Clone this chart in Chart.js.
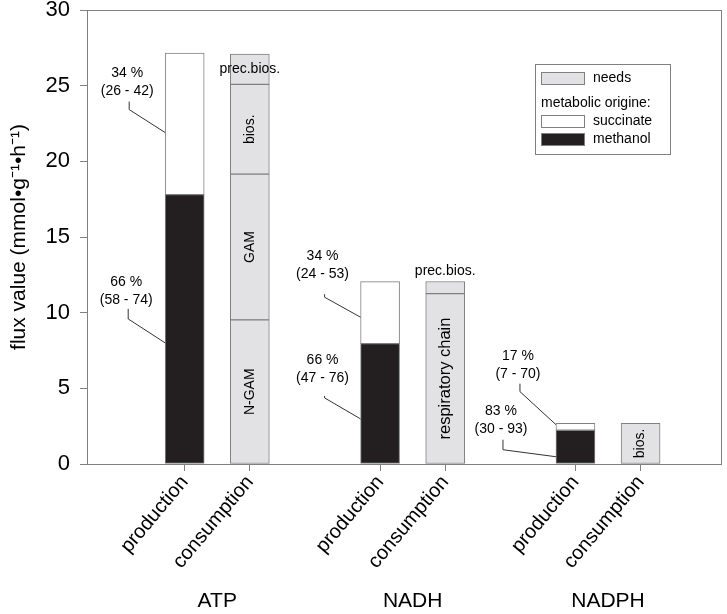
<!DOCTYPE html>
<html lang="en">
<head>
<meta charset="UTF-8">
<title>Flux values ATP / NADH / NADPH</title>
<style>
  body { margin: 0; background: #fff; }
  canvas { display: block; }
</style>
</head>
<body>
<canvas id="fluxChart" width="727" height="614"></canvas>

<script src="https://cdn.jsdelivr.net/npm/chart.js"></script>
<script>
// ---- data ----
const groups = ['ATP', 'NADH', 'NADPH'];
const phases = ['production', 'consumption'];
const methanol = [17.8, 7.95, 2.23];
const succinate = [9.35, 4.1, 0.46];
// consumption ("needs"), segments from the bottom of each bar upward
const needsATP = [9.52, 9.63, 5.94, 2.0];
const needsNADH = [11.26, 0.8];
const needsNADPH = [2.69];
const needLabelsATP = ['N-GAM', 'GAM', 'bios.', 'prec.bios.'];
const needLabelsNADH = ['respiratory chain', 'prec.bios.'];
const needLabelsNADPH = ['bios.'];
const yTicks = [0, 5, 10, 15, 20, 25, 30];

const needs = [needsATP, needsNADH, needsNADPH];
const needLabels = [needLabelsATP, needLabelsNADH, needLabelsNADPH];

// share notes with leader lines (at = value on the bar edge where the line ends)
const shareNotes = [
  { group: 0, series: 'succinate', lines: ['34 %', '(26 - 42)'], at: 21.9, dx: -36, rise: 23, stem: 8, gap: 10 },
  { group: 0, series: 'methanol', lines: ['66 %', '(58 - 74)'], at: 8.0, dx: -37, rise: 24, stem: 10, gap: 9 },
  { group: 1, series: 'succinate', lines: ['34 %', '(24 - 53)'], at: 9.7, dx: -36, rise: 20, stem: 3, gap: 20 },
  { group: 1, series: 'methanol', lines: ['66 %', '(47 - 76)'], at: 2.98, dx: -36, rise: 21, stem: 2, gap: 18 },
  { group: 2, series: 'succinate', lines: ['17 %', '(7 - 70)'], at: 2.6, dx: -36, rise: 33, stem: 8, gap: 10 },
  { group: 2, series: 'methanol', lines: ['83 %', '(30 - 93)'], at: 0.48, dx: -53, rise: 7, stem: 10, gap: 11 }
];

const BLACK = '#231f20';
const GREY = '#e2e2e4';
const EDGE = '#808080';
const FONT = "'Liberation Sans', Arial, sans-serif";

Chart.defaults.font.family = FONT;
Chart.defaults.color = '#000';

// production bar of group i sits at 3i+1, consumption at 3i+2
const prodPos = i => 3 * i + 1;
const consPos = i => 3 * i + 2;

const datasets = [
  {
    label: 'methanol',
    data: methanol.map((v, i) => ({ x: prodPos(i), y: v })),
    backgroundColor: BLACK
  },
  {
    label: 'succinate',
    data: succinate.map((v, i) => ({ x: prodPos(i), y: v })),
    backgroundColor: '#ffffff'
  }
];
for (let k = 0; k < 4; k++) {
  const pts = [];
  needs.forEach((arr, i) => {
    if (arr[k] !== undefined) pts.push({ x: consPos(i), y: arr[k] });
  });
  datasets.push({ label: 'needs ' + k, level: k, data: pts, backgroundColor: GREY });
}
datasets.forEach(d => {
  d.borderColor = EDGE;
  d.borderWidth = 1;
  d.borderSkipped = false;
  d.barThickness = 39;
});

const decorations = {
  id: 'decorations',
  afterDatasetsDraw(chart) {
    const { ctx, chartArea: a, scales } = chart;
    const y = scales.y;
    ctx.save();

    // frame around the plot
    ctx.strokeStyle = EDGE;
    ctx.lineWidth = 1;
    ctx.strokeRect(Math.round(a.left) + 0.5, Math.round(a.top) + 0.5,
      Math.round(a.right - a.left) - 1, Math.round(a.bottom - a.top));

    // labels on the consumption segments
    ctx.fillStyle = '#000';
    ctx.textAlign = 'center';
    ctx.textBaseline = 'middle';
    chart.data.datasets.forEach((ds, di) => {
      if (ds.level === undefined) return;
      const meta = chart.getDatasetMeta(di);
      meta.data.forEach((el, j) => {
        const g = (ds.data[j].x - 2) / 3;
        const text = needLabels[g][ds.level];
        if (!text) return;
        const size = text === 'respiratory chain' ? 16.5 : 14;
        ctx.font = size + 'px ' + FONT;
        const h = el.base - el.y;
        const w = ctx.measureText(text).width;
        if (w + 6 <= h) {
          ctx.save();
          ctx.translate(el.x, (el.y + el.base) / 2);
          ctx.rotate(-Math.PI / 2);
          ctx.fillText(text, 0, 0);
          ctx.restore();
        } else if (h >= 20) {
          ctx.fillText(text, el.x, (el.y + el.base) / 2);
        } else {
          ctx.fillText(text, el.x, el.y - 10);
        }
      });
    });

    // share notes with leader lines
    ctx.font = '14px ' + FONT;
    shareNotes.forEach(n => {
      const di = chart.data.datasets.findIndex(d => d.label === n.series);
      const el = chart.getDatasetMeta(di).data[n.group];
      const x1 = el.x - el.width / 2;
      const y1 = y.getPixelForValue(n.at);
      const xe = x1 + n.dx, ye = y1 - n.rise;
      const ys = ye - n.stem;
      ctx.strokeStyle = '#333';
      ctx.beginPath();
      ctx.moveTo(xe, ys);
      ctx.lineTo(xe, ye);
      ctx.lineTo(x1, y1);
      ctx.stroke();
      ctx.fillText(n.lines[1], xe - 2, ys - n.gap);
      ctx.fillText(n.lines[0], xe - 2, ys - n.gap - 18);
    });

    // legend box
    const lx = a.right - 187, ly = a.top + 54;
    ctx.strokeStyle = EDGE;
    ctx.strokeRect(lx + 0.5, ly + 0.5, 135, 90);
    ctx.textAlign = 'left';
    const swatch = (fill, top, text) => {
      ctx.fillStyle = fill;
      ctx.fillRect(lx + 6.5, top + 0.5, 43, 12);
      ctx.strokeStyle = EDGE;
      ctx.strokeRect(lx + 6.5, top + 0.5, 43, 12);
      ctx.fillStyle = '#000';
      ctx.fillText(text, lx + 58, top + 6);
    };
    swatch(GREY, ly + 8, 'needs');
    ctx.fillStyle = '#000';
    ctx.fillText('metabolic origine:', lx + 6, ly + 39);
    swatch('#ffffff', ly + 51, 'succinate');
    swatch(BLACK, ly + 69, 'methanol');

    ctx.restore();
  }
};

new Chart(document.getElementById('fluxChart'), {
  type: 'bar',
  data: { datasets },
  options: {
    responsive: false,
    animation: false,
    layout: { padding: { top: 10, right: 5, left: 0, bottom: 0 } },
    plugins: { legend: { display: false }, tooltip: { enabled: false } },
    scales: {
      x: {
        type: 'linear',
        position: 'bottom',
        stacked: true,
        min: -0.5,
        max: 9.25,
        offset: false,
        border: { display: false },
        grid: { drawOnChartArea: false, offset: false, tickLength: 7, color: EDGE },
        ticks: {
          autoSkip: false,
          minRotation: 50,
          maxRotation: 50,
          padding: 0,
          font: { size: 20 },
          callback: v => phases[(v % 3) - 1]
        },
        afterBuildTicks: s => {
          s.ticks = groups.flatMap((g, i) => [{ value: prodPos(i) }, { value: consPos(i) }]);
        },
        afterFit: s => { s.height = 115; s.paddingLeft = 0; s.paddingRight = 0; }
      },
      x2: {
        type: 'linear',
        position: 'bottom',
        weight: 1,
        min: -0.5,
        max: 9.25,
        offset: false,
        border: { display: false },
        grid: { display: false, drawTicks: false, offset: false },
        ticks: {
          autoSkip: false,
          maxRotation: 0,
          padding: 10,
          font: { size: 21 },
          callback: v => groups[(v - 1.5) / 3]
        },
        afterBuildTicks: s => {
          s.ticks = groups.map((g, i) => ({ value: prodPos(i) + 0.5 }));
        },
        afterFit: s => { s.height = 35; s.paddingLeft = 0; s.paddingRight = 0; }
      },
      y: {
        stacked: true,
        min: 0,
        max: 30,
        border: { display: false },
        grid: { drawOnChartArea: false, tickLength: 7, color: EDGE },
        ticks: { padding: 10, font: { size: 22 } },
        afterBuildTicks: s => { s.ticks = yTicks.map(v => ({ value: v })); },
        title: {
          display: true,
          text: 'flux value (mmol•g⁻¹•h⁻¹)',
          font: { size: 21 },
          padding: { top: 7, bottom: 0 }
        },
        afterFit: s => { s.width = 87; s.paddingTop = 0; s.paddingBottom = 0; }
      }
    }
  },
  plugins: [decorations]
});
</script>
</body>
</html>
